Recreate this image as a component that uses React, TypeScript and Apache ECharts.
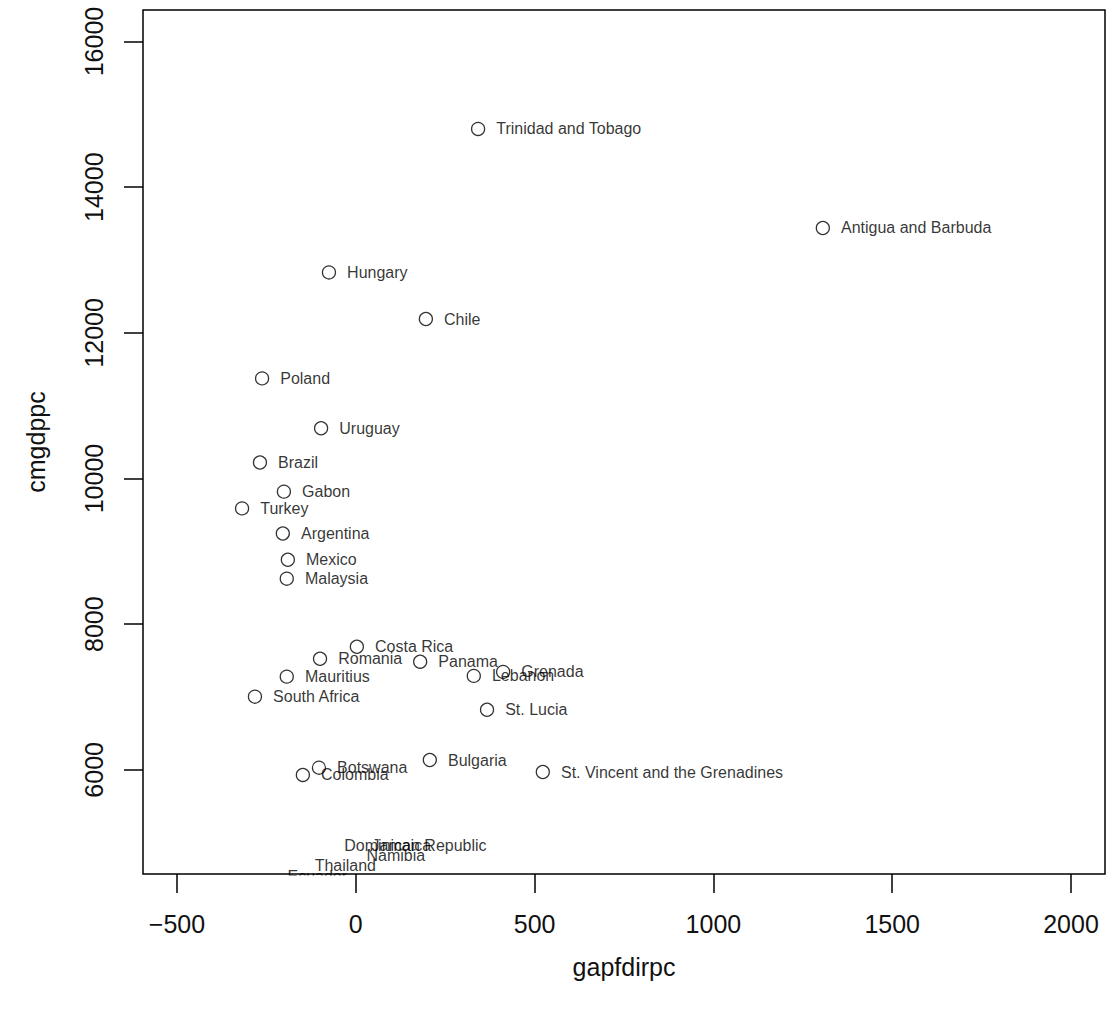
import React, { useEffect, useRef } from "react";
import * as echarts from "echarts";

// Countries drawn with a circle marker and a label to the right
const countries = [
  "Trinidad and Tobago",
  "Antigua and Barbuda",
  "Hungary",
  "Chile",
  "Poland",
  "Uruguay",
  "Brazil",
  "Gabon",
  "Turkey",
  "Argentina",
  "Mexico",
  "Malaysia",
  "Costa Rica",
  "Romania",
  "Panama",
  "Mauritius",
  "Lebanon",
  "Grenada",
  "South Africa",
  "St. Lucia",
  "Bulgaria",
  "St. Vincent and the Grenadines",
  "Botswana",
  "Colombia",
];
const gapfdirpc = [342, 1306, -75, 196, -262, -97, -268, -201, -318, -204, -190, -193, 3, -100, 180, -193, 330, 412, -282, 367, 207, 523, -103, -148];
const cmgdppc = [14800, 13440, 12830, 12190, 11375, 10690, 10220, 9820, 9590, 9245, 8885, 8625, 7690, 7525, 7485, 7280, 7290, 7345, 7005, 6825, 6135, 5970, 6030, 5930];

// Countries whose labels appear near the bottom without a visible marker
const labelOnlyCountries = ["Dominican Republic", "Jamaica", "Namibia", "Thailand", "Ecuador"];
const labelOnlyX = [-81, -5, -19, -164, -240];
const labelOnlyY = [4955, 4960, 4820, 4680, 4530];

// Axis ticks
const xTicks = [-500, 0, 500, 1000, 1500, 2000];
const yTicks = [6000, 8000, 10000, 12000, 14000, 16000];

const FONT = "'Liberation Sans', Arial, Helvetica, sans-serif";

export default function App() {
  const ref = useRef<HTMLDivElement>(null);

  useEffect(() => {
    if (!ref.current) return;
    const chart = echarts.init(ref.current, null, { renderer: "svg" });
    const pts = countries.map((c, i) => ({ name: c, value: [gapfdirpc[i], cmgdppc[i]] }));
    const lbls = labelOnlyCountries.map((c, i) => ({ name: c, value: [labelOnlyX[i], labelOnlyY[i]] }));

    chart.setOption({
      animation: false,
      backgroundColor: "#ffffff",
      textStyle: { fontFamily: FONT },
      grid: {
        left: 143,
        right: 2,
        top: 10,
        bottom: 136,
        show: true,
        borderColor: "#000",
        borderWidth: 1.5,
        backgroundColor: "transparent",
      },
      xAxis: {
        type: "value",
        min: -595,
        max: 2095,
        name: "gapfdirpc",
        nameLocation: "middle",
        nameGap: 80,
        nameTextStyle: { fontSize: 25, color: "#111", fontFamily: FONT },
        axisLine: { show: false, onZero: false },
        splitLine: { show: false },
        axisTick: {
          show: true,
          customValues: xTicks,
          length: 19,
          lineStyle: { color: "#000", width: 1.5 },
        },
        axisLabel: {
          customValues: xTicks,
          fontSize: 25,
          color: "#111",
          margin: 37,
          fontFamily: FONT,
          formatter: (v: number) => (v < 0 ? "\u2212" + Math.abs(v) : String(v)),
        },
      },
      yAxis: {
        type: "value",
        min: 4570,
        max: 16433,
        name: "cmgdppc",
        nameLocation: "middle",
        nameGap: 95,
        nameTextStyle: { fontSize: 25, color: "#111", fontFamily: FONT },
        axisLine: { show: false, onZero: false },
        splitLine: { show: false },
        axisTick: {
          show: true,
          customValues: yTicks,
          length: 19,
          lineStyle: { color: "#000", width: 1.5 },
        },
        axisLabel: {
          customValues: yTicks,
          fontSize: 25,
          color: "#111",
          margin: 37,
          rotate: 90,
          fontFamily: FONT,
          formatter: (v: number) => String(v),
        },
      },
      series: [
        {
          type: "scatter",
          data: pts,
          symbol: "circle",
          symbolSize: 13,
          itemStyle: { color: "rgba(255,255,255,0)", borderColor: "#000", borderWidth: 1.3 },
          label: {
            show: true,
            position: "right",
            distance: 11,
            formatter: "{b}",
            fontSize: 16,
            color: "#000",
            fontFamily: FONT,
          },
          emphasis: { disabled: true },
          z: 3,
        },
        {
          type: "scatter",
          data: lbls,
          symbol: "circle",
          symbolSize: 1,
          clip: false,
          itemStyle: { color: "rgba(255,255,255,0)", borderWidth: 0 },
          label: {
            show: true,
            position: "right",
            distance: 17,
            formatter: "{b}",
            fontSize: 16,
            color: "#000",
            fontFamily: FONT,
          },
          emphasis: { disabled: true },
          z: 3,
        },
      ],
      graphic: [
        {
          type: "rect",
          shape: { x: 270, y: 875.5, width: 84, height: 22 },
          style: { fill: "#ffffff" },
          z: 100,
          silent: true,
        },
      ],
    });
    return () => chart.dispose();
  }, []);

  return (
    <div
      ref={ref}
      style={{ position: "fixed", left: 0, top: 0, width: 1107, height: 1010, background: "#fff" }}
    />
  );
}
